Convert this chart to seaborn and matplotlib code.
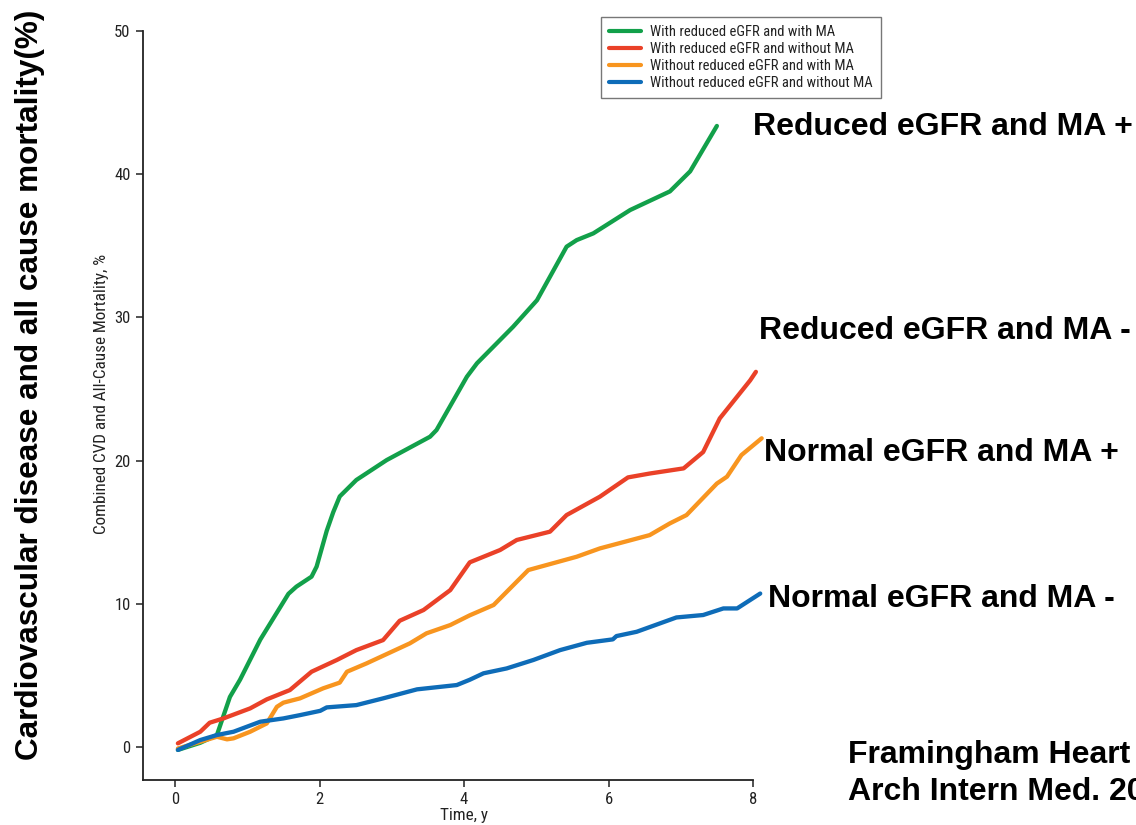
import matplotlib
matplotlib.use("Agg")
import matplotlib.pyplot as plt
from matplotlib import font_manager as fm
import seaborn as sns
import pandas as pd

# Cumulative combined CVD and all-cause mortality (%) over follow-up time (years)
green_t = [0.04, 0.35, 0.58, 0.76, 0.90, 1.18, 1.57, 1.68, 1.89, 1.96, 2.10, 2.19, 2.28,
           2.51, 2.93, 3.53, 3.62, 4.04, 4.18, 4.68, 5.01, 5.42, 5.56, 5.79, 6.30, 6.85,
           7.13, 7.50]
green_v = [-0.2, 0.3, 0.84, 3.5, 4.7, 7.5, 10.7, 11.2, 11.9, 12.6, 15.1, 16.4, 17.5,
           18.65, 20.04, 21.67, 22.14, 25.86, 26.8, 29.35, 31.2, 34.94, 35.4, 35.87, 37.5,
           38.8, 40.2, 43.37]

red_t = [0.04, 0.35, 0.48, 0.67, 1.04, 1.27, 1.59, 1.89, 2.24, 2.51, 2.88, 3.11, 3.44,
         3.81, 4.08, 4.50, 4.73, 5.19, 5.42, 5.88, 6.27, 6.57, 7.04, 7.31, 7.54, 7.96, 8.04]
red_v = [0.26, 1.07, 1.70, 2.0, 2.7, 3.33, 3.98, 5.26, 6.08, 6.77, 7.47, 8.82, 9.57,
         10.96, 12.9, 13.76, 14.46, 15.04, 16.2, 17.48, 18.83, 19.1, 19.46, 20.6, 22.95, 25.6, 26.2]

orange_t = [0.04, 0.58, 0.72, 0.81, 1.04, 1.27, 1.41, 1.50, 1.73, 2.05, 2.28, 2.38, 2.65,
            3.25, 3.48, 3.81, 4.08, 4.41, 4.89, 5.56, 5.88, 6.57, 6.85, 7.08, 7.50, 7.64,
            7.84, 8.12]
orange_v = [-0.1, 0.72, 0.54, 0.61, 1.07, 1.65, 2.81, 3.1, 3.4, 4.1, 4.5, 5.26, 5.84,
            7.24, 7.94, 8.52, 9.2, 9.92, 12.36, 13.29, 13.87, 14.8, 15.62, 16.2, 18.4, 18.88,
            20.39, 21.56]

blue_t = [0.04, 0.35, 0.58, 0.81, 1.18, 1.50, 1.73, 2.01, 2.10, 2.51, 2.88, 3.35, 3.90,
          4.08, 4.27, 4.59, 4.96, 5.33, 5.70, 6.06, 6.11, 6.39, 6.94, 7.31, 7.59, 7.78, 8.10]
blue_v = [-0.2, 0.49, 0.84, 1.07, 1.77, 2.0, 2.23, 2.53, 2.77, 2.93, 3.4, 4.03, 4.33,
          4.7, 5.15, 5.49, 6.08, 6.77, 7.28, 7.52, 7.75, 8.05, 9.05, 9.22, 9.68, 9.68, 10.72]

groups = ["With reduced eGFR and with MA",
          "With reduced eGFR and without MA",
          "Without reduced eGFR and with MA",
          "Without reduced eGFR and without MA"]
colors = ["#12a04a", "#ea4128", "#f8951f", "#0e6cb8"]

end_labels = ["Reduced eGFR and MA +", "Reduced eGFR and MA -",
              "Normal eGFR and MA +", "Normal eGFR and MA -"]
x_ticks = [0, 2, 4, 6, 8]
y_ticks = [0, 10, 20, 30, 40, 50]

frames = []
for name, t, v in zip(groups, [green_t, red_t, orange_t, blue_t],
                      [green_v, red_v, orange_v, blue_v]):
    frames.append(pd.DataFrame({"Time": t, "Mortality": v, "Group": name}))
df = pd.concat(frames, ignore_index=True)

sns.set_style("ticks")
plt.rcParams["font.family"] = ["Liberation Sans", "DejaVu Sans"]
plt.rcParams["text.color"] = "black"


def narrow_font():
    """Pick an installed condensed sans face for the small axis texts."""
    best = None
    for f in fm.fontManager.ttflist:
        name = f.name.lower()
        is_narrow = ("narrow" in name or "condensed" in name or
                     f.stretch in ("condensed", "semi-condensed", "extra-condensed"))
        if not is_narrow or f.style != "normal":
            continue
        if f.weight not in (400, "normal", "regular"):
            continue
        score = 0 if "liberation" in name else (1 if "roboto" in name else 2)
        if best is None or score < best[0]:
            best = (score, f.fname)
    return best[1] if best else None


narrow_path = narrow_font()
if narrow_path:
    tick_fp = fm.FontProperties(fname=narrow_path, size=12)
    label_fp = fm.FontProperties(fname=narrow_path, size=12.3)
    legend_fp = fm.FontProperties(fname=narrow_path, size=10.5)
else:
    tick_fp = fm.FontProperties(family="Liberation Sans", size=10.5)
    label_fp = fm.FontProperties(family="Liberation Sans", size=10.5)
    legend_fp = fm.FontProperties(family="Liberation Sans", size=8.8)

fig = plt.figure(figsize=(11.36, 8.25), dpi=100)
ax = fig.add_axes([143 / 1136, 1 - 780 / 825, 610 / 1136, 749 / 825])

sns.lineplot(data=df, x="Time", y="Mortality", hue="Group", hue_order=groups,
             palette=colors, linewidth=3.1, ax=ax, estimator=None, sort=True)
for line in ax.get_lines():
    line.set_clip_on(False)
    line.set_solid_joinstyle("round")
    line.set_solid_capstyle("round")

ax.set_xlim(-0.443, 8.0)
ax.set_ylim(-2.3, 50)
ax.set_xticks(x_ticks)
ax.set_yticks(y_ticks)
ax.tick_params(length=5, width=1.1, colors="#222222", pad=4)
for lab in ax.get_xticklabels() + ax.get_yticklabels():
    lab.set_fontproperties(tick_fp)
for s in ["top", "right"]:
    ax.spines[s].set_visible(False)
for s in ["left", "bottom"]:
    ax.spines[s].set_linewidth(1.3)
    ax.spines[s].set_color("#222222")
ax.set_xlabel("Time, y", fontproperties=label_fp, color="#222222")
ax.set_ylabel("Combined CVD and All-Cause Mortality, %", fontproperties=label_fp,
              color="#222222")
# axis titles sit centred on the 0-8 and 0-50 data ranges
ax.xaxis.set_label_coords(0.526, -0.037)
ax.yaxis.set_label_coords(-0.056, 0.516)

leg = ax.legend(loc="upper left", bbox_to_anchor=(601 / 1136, 1 - 17 / 825),
                bbox_transform=fig.transFigure, borderaxespad=0, prop=legend_fp,
                frameon=True, fancybox=False, handlelength=2.2, labelspacing=0.2,
                borderpad=0.55, handletextpad=0.6)
leg.get_frame().set_edgecolor("#555555")
leg.get_frame().set_linewidth(1.0)
for line in leg.get_lines():
    line.set_linewidth(3.0)
for t in leg.get_texts():
    t.set_color("#222222")

big = dict(fontsize=23, fontweight="bold", family=["Liberation Sans", "DejaVu Sans"],
           color="black", va="center", ha="left")
label_pos = [(753, 127), (759, 331), (764, 453), (768, 599)]
for txt, (px, py) in zip(end_labels, label_pos):
    fig.text(px / 1136, 1 - py / 825, txt, **big)

fig.text(30 / 1136, 1 - 385 / 825, "Cardiovascular disease and all cause mortality(%)",
         rotation=90, fontsize=22.7, fontweight="bold", color="black",
         family=["Liberation Sans", "DejaVu Sans"], va="center", ha="center")

fig.text(848 / 1136, 1 - 755 / 825, "Framingham Heart Study", **big)
fig.text(848 / 1136, 1 - 792 / 825, "Arch Intern Med. 2009", **big)

fig.savefig("out.png", dpi=100)
